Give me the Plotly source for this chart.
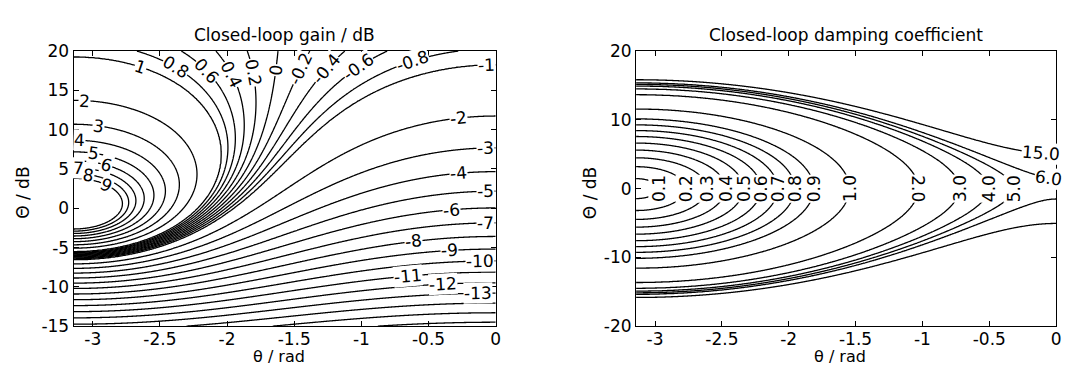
import numpy as np
import plotly.graph_objects as go

# ---------------- data ----------------
theta_tick_values = [-3, -2.5, -2, -1.5, -1, -0.5, 0]
theta_tick_text = ["-3", "-2.5", "-2", "-1.5", "-1", "-0.5", "0"]
gain_axis_ticks = [-15, -10, -5, 0, 5, 10, 15, 20]
gain_axis_text = ["-15", "-10", "-5", "0", "5", "10", "15", "20"]
damping_axis_ticks = [-20, -10, 0, 10, 20]
damping_axis_text = ["-20", "-10", "0", "10", "20"]

# closed-loop gain contour levels (dB)
gain_levels = [9, 8, 7, 6, 5, 4, 3, 2, 1, 0.8, 0.6, 0.4, 0.2, 0, -0.2, -0.4, -0.6, -0.8,
               -1, -2, -3, -4, -5, -6, -7, -8, -9, -10, -11, -12, -13, -14, -15, -16]
gain_labelled = [1, 0.8, 0.6, 0.4, 0.2, 0, -0.2, -0.4, -0.6, -0.8, -1, 2, 3, 4, 5, 6, 7, 8, 9,
                 -2, -3, -4, -5, -6, -7, -8, -9, -10, -11, -12, -13]

# closed-loop damping coefficient levels and the value of |L + 1/L + 2| each contour follows
damping_levels = [0.1, 0.2, 0.3, 0.4, 0.5, 0.6, 0.7, 0.8, 0.9, 1.0, 2.0, 3.0, 4.0, 5.0, 6.0, 15.0]
damping_q_levels = [0.028, 0.136, 0.272, 0.43, 0.61, 0.81, 1.02, 1.25, 1.52, 2.05,
                    3.03, 3.5, 3.75, 3.9, 4.03, 4.35]

gain_range = [-15, 20]
damping_range = [-20, 20]
theta_range = [-np.pi, 0]

# ---------------- fields ----------------
def open_loop(th, G):
    return 10 ** (np.asarray(G) / 20.0) * np.exp(1j * np.asarray(th))

def closed_loop_gain_db(th, G):
    L = open_loop(th, G)
    with np.errstate(divide="ignore", invalid="ignore"):
        v = 20 * np.log10(np.abs(L) / np.abs(1 + L))
    return np.nan_to_num(v, nan=200.0, posinf=200.0, neginf=-200.0)

def damping_measure(th, G):
    L = open_loop(th, G)
    return np.abs(L + 1 / L + 2)

def to_index(z, levels):
    lv = np.sort(np.asarray(levels, dtype=float))
    n = len(lv)
    big = 1e4
    ext_lv = np.concatenate([[lv[0] - big], lv, [lv[-1] + big]])
    ext_ix = np.concatenate([[-big / (lv[1] - lv[0])], np.arange(n),
                             [n - 1 + big / (lv[-1] - lv[-2])]])
    return np.round(np.interp(z, ext_lv, ext_ix), 4), n

theta = np.linspace(theta_range[0], theta_range[1], 520)
G1 = np.linspace(gain_range[0], gain_range[1], 460)
G2 = np.linspace(damping_range[0], damping_range[1], 460)
TH1, GG1 = np.meshgrid(theta, G1)
TH2, GG2 = np.meshgrid(theta, G2)
z1, n1 = to_index(closed_loop_gain_db(TH1, GG1), gain_levels)
z2, n2 = to_index(damping_measure(TH2, GG2), damping_q_levels)

# ---------------- layout geometry ----------------
W, H = 1077, 365
left_px = (66, 490)
right_px = (631, 1053)
top_px, bot_px = 35, 326
FONT = "DejaVu Sans"
FS = 17
LW = 1.3

sx = (left_px[1] - left_px[0]) / np.pi
sy1 = (bot_px - top_px) / (gain_range[1] - gain_range[0])
sy2 = (bot_px - top_px) / (damping_range[1] - damping_range[0])


def project(f, level, th0, G0, sxx, syy):
    u, v = th0 * sxx, G0 * syy
    h = 1e-3
    for _ in range(60):
        th, G = u / sxx, v / syy
        fu = (f(th + h / sxx, G) - f(th - h / sxx, G)) / (2 * h)
        fv = (f(th, G + h / syy) - f(th, G - h / syy)) / (2 * h)
        r = f(th, G) - level
        n2_ = fu * fu + fv * fv
        du, dv = -r * fu / n2_, -r * fv / n2_
        step = np.hypot(du, dv)
        if step > 4:
            du, dv = du * 4 / step, dv * 4 / step
        u += du
        v += dv
        if step < 1e-4:
            break
    th, G = u / sxx, v / syy
    fu = (f(th + h / sxx, G) - f(th - h / sxx, G)) / (2 * h)
    fv = (f(th, G + h / syy) - f(th, G - h / syy)) / (2 * h)
    ang = np.degrees(np.arctan2(-fu, -fv))
    while ang >= 90:
        ang -= 180
    while ang < -90:
        ang += 180
    return float(th), float(G), float(ang)


# approximate label anchor points (theta, Theta), one per labelled level
gain_anchor = {
    1: (-2.654, 17.4), 0.8: (-2.394, 17.6), 0.6: (-2.17, 17.2), 0.4: (-2.01, 16.6),
    0.2: (-1.837, 17.2), 0: (-1.626, 17.6), -0.2: (-1.44, 17.6), -0.4: (-1.255, 17.6),
    -0.6: (-1.02, 17.8), -0.8: (-0.62, 18.6), -1: (-0.066, 17.8),
    2: (-3.06, 13.4), 3: (-2.96, 10.0), 4: (-3.10, 8.0), 5: (-3.0, 6.6), 6: (-2.91, 5.0),
    7: (-3.11, 4.8), 8: (-3.04, 3.6), 9: (-2.91, 2.6),
    -2: (-0.277, 11.0), -3: (-0.078, 7.2), -4: (-0.277, 4.0), -5: (-0.078, 1.6),
    -6: (-0.326, -0.85), -7: (-0.078, -2.04), -8: (-0.61, -4.66), -9: (-0.34, -5.86),
    -10: (-0.12, -7.06), -11: (-0.65, -8.87), -12: (-0.39, -10.07), -13: (-0.13, -11.07),
}
damping_anchor = [(-2.978, 0), (-2.764, 0), (-2.608, 0), (-2.459, 0), (-2.318, 0),
                  (-2.194, 0), (-2.07, 0), (-1.938, 0), (-1.804, 0), (-1.516, 0),
                  (-1.003, 0), (-0.68, 0), (-0.43, 0), (-0.25, 0), (-0.06, 1.44), (-0.11, 5.15)]

fig = go.Figure()
black = [[0, "black"], [1, "black"]]
fig.add_trace(go.Contour(
    x=np.round(theta, 5), y=np.round(G1, 5), z=z1, xaxis="x", yaxis="y",
    contours=dict(coloring="lines", start=0, end=n1 - 1, size=1, showlabels=False),
    colorscale=black, showscale=False, line=dict(width=LW, smoothing=0.6),
    hoverinfo="skip"))
fig.add_trace(go.Contour(
    x=np.round(theta, 5), y=np.round(G2, 5), z=z2, xaxis="x2", yaxis="y2",
    contours=dict(coloring="lines", start=0, end=n2 - 1, size=1, showlabels=False),
    colorscale=black, showscale=False, line=dict(width=LW, smoothing=0.6),
    hoverinfo="skip"))

annotations = []
for lvl in gain_labelled:
    th0, G0 = gain_anchor[lvl]
    th, G, ang = project(closed_loop_gain_db, lvl, th0, G0, sx, sy1)
    annotations.append(dict(x=th, y=G, xref="x", yref="y", text=f"{lvl:g}", textangle=ang,
                            showarrow=False, bgcolor="white", borderpad=0,
                            font=dict(family=FONT, size=FS, color="black")))
for lvl, q, (th0, G0) in zip(damping_levels, damping_q_levels, damping_anchor):
    th, G, ang = project(damping_measure, q, th0, G0, sx, sy2)
    annotations.append(dict(x=th, y=G, xref="x2", yref="y2", text=f"{lvl:.1f}", textangle=ang,
                            showarrow=False, bgcolor="white", borderpad=0,
                            font=dict(family=FONT, size=FS, color="black")))

def txt(x, y, s, angle=0, size=FS):
    return dict(x=x / W, y=1 - y / H, xref="paper", yref="paper", text=s, showarrow=False,
                textangle=angle, xanchor="center", yanchor="middle",
                font=dict(family=FONT, size=size, color="black"))

annotations += [
    txt(278, 18, "Closed-loop gain / dB"),
    txt(842, 18, "Closed-loop damping coefficient"),
    txt(272, 358, "θ / rad", size=16),
    txt(836, 358, "θ / rad", size=16),
    txt(15, 185, "Θ / dB", -90),
    txt(585, 185, "Θ / dB", -90),
]

axis_common = dict(showline=True, linecolor="black", linewidth=1.2, mirror="ticks",
                   ticks="inside", ticklen=5, tickwidth=1.2, tickcolor="black",
                   showgrid=False, zeroline=False,
                   tickfont=dict(family=FONT, size=FS, color="black"))
ydom = [1 - bot_px / H, 1 - top_px / H]
fig.update_layout(
    width=W, height=H, autosize=False,
    margin=dict(l=0, r=0, t=0, b=0),
    paper_bgcolor="white", plot_bgcolor="white", showlegend=False,
    xaxis=dict(domain=[left_px[0] / W, left_px[1] / W], range=theta_range, anchor="y",
               tickvals=theta_tick_values, ticktext=theta_tick_text,
               ticklabelstandoff=-3, **axis_common),
    yaxis=dict(domain=ydom, range=gain_range, anchor="x",
               tickvals=gain_axis_ticks, ticktext=gain_axis_text, **axis_common),
    xaxis2=dict(domain=[right_px[0] / W, right_px[1] / W], range=theta_range, anchor="y2",
                tickvals=theta_tick_values, ticktext=theta_tick_text,
                ticklabelstandoff=-3, **axis_common),
    yaxis2=dict(domain=ydom, range=damping_range, anchor="x2",
                tickvals=damping_axis_ticks, ticktext=damping_axis_text, **axis_common),
    annotations=annotations,
)

fig.write_html("out.html")
